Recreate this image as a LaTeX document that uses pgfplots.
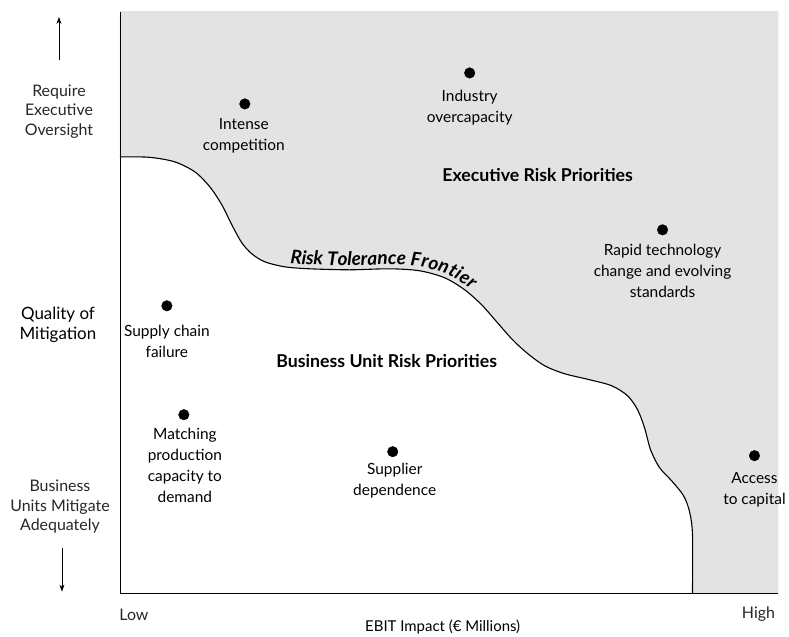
\documentclass[border=0pt]{standalone}
\usepackage{pgfplots}
\pgfplotsset{compat=1.18}
\usepackage{fontspec}
\setmainfont{Lato}
\usetikzlibrary{arrows.meta,decorations.text}

\newcommand{\lbl}{\fontsize{15.5}{21}\selectfont}
\newcommand{\side}{\fontsize{16}{19.5}\selectfont}
\newcommand{\zone}{\fontsize{17.8}{20}\selectfont\bfseries}

\begin{document}
\begin{tikzpicture}
\begin{axis}[
  x=1bp, y=1bp,
  xmin=120, xmax=779, ymin=42, ymax=624,
  axis x line*=bottom, axis y line*=left,
  axis line style={-, line width=0.8pt},
  xtick=\empty, ytick=\empty,
  clip mode=individual,
  axis on top,
]
% shaded executive zone, bounded by the risk tolerance frontier
\addplot[fill=gray!22, draw=black, line width=1.1pt, smooth] coordinates {
  (0,479) (120,479) (150,478.5) (175,474) (195,464) (210,449) (222,431)
  (232,411) (242,393) (252,382) (265,374) (285,369) (310,367) (350,366)
  (390,367) (420,365) (445,358) (465,346) (482,331) (497,314) (512,297)
  (527,283) (545,270) (565,262) (590,256) (612,250) (628,240) (638,226)
  (645,208) (651,186) (660,168) (672,155) (684,140) (690,124) (693,101)
  (693,42) (693,-50) (900,-50) (900,700) (0,700)
};
% frontier caption
\addplot[draw=none, smooth, postaction={decorate, decoration={text along path,
  text={|\fontsize{19}{22}\selectfont\bfseries\itshape|Risk Tolerance Frontier},
  raise=4pt, text align={left indent=5pt}}}] coordinates {
  (285,369) (310,367) (350,366) (390,367) (420,365) (445,358) (465,346)
  (482,331) (497,314) (512,297)
};
% risks
\addplot[only marks, mark=*, mark size=5.3pt, black] coordinates {
  (245,532) (470,563) (663,406) (167,330) (184,221) (393,184) (755,180)
};

\node[align=center, font=\lbl] at (axis cs:244,500.5) {Intense\\competition};
\node[align=center, font=\lbl] at (axis cs:470,528) {Industry\\overcapacity};
\node[align=center, font=\lbl] at (axis cs:663,365) {Rapid technology\\change and evolving\\standards};
\node[align=center, font=\lbl] at (axis cs:167,294.5) {Supply chain\\failure};
\node[align=center, font=\lbl] at (axis cs:185,170) {Matching\\production\\capacity to\\demand};
\node[align=center, font=\lbl] at (axis cs:395,155) {Supplier\\dependence};
\node[align=center, font=\lbl] at (axis cs:755,146) {Access\\to capital};

\node[font=\zone] at (axis cs:538,461) {Executive Risk Priorities};
\node[font=\zone] at (axis cs:387,275) {Business Unit Risk Priorities};

% vertical scale description
\draw[-{Stealth[length=7pt,width=5pt]}, line width=0.7pt] (axis cs:59,576) -- (axis cs:59,619);
\node[align=center, font=\side, text=black!85] at (axis cs:59,524.5) {Require\\Executive\\Oversight};
\node[align=center, font=\fontsize{17}{20}\selectfont] at (axis cs:58,311) {Quality of\\Mitigation};
\node[align=center, font=\side, text=black!85] at (axis cs:60,129) {Business\\Units Mitigate\\Adequately};
\draw[-{Stealth[length=7pt,width=5pt]}, line width=0.7pt] (axis cs:62,88) -- (axis cs:62,44);

% horizontal scale description
\node[font=\side, text=black!85] at (axis cs:134,21) {Low};
\node[font=\side, text=black!85] at (axis cs:759,21) {High};
\node[font=\fontsize{15}{18}\selectfont] at (axis cs:443,9) {EBIT Impact (€ Millions)};

\path (axis cs:0,0) rectangle (axis cs:789,636);
\end{axis}
\end{tikzpicture}
\end{document}
